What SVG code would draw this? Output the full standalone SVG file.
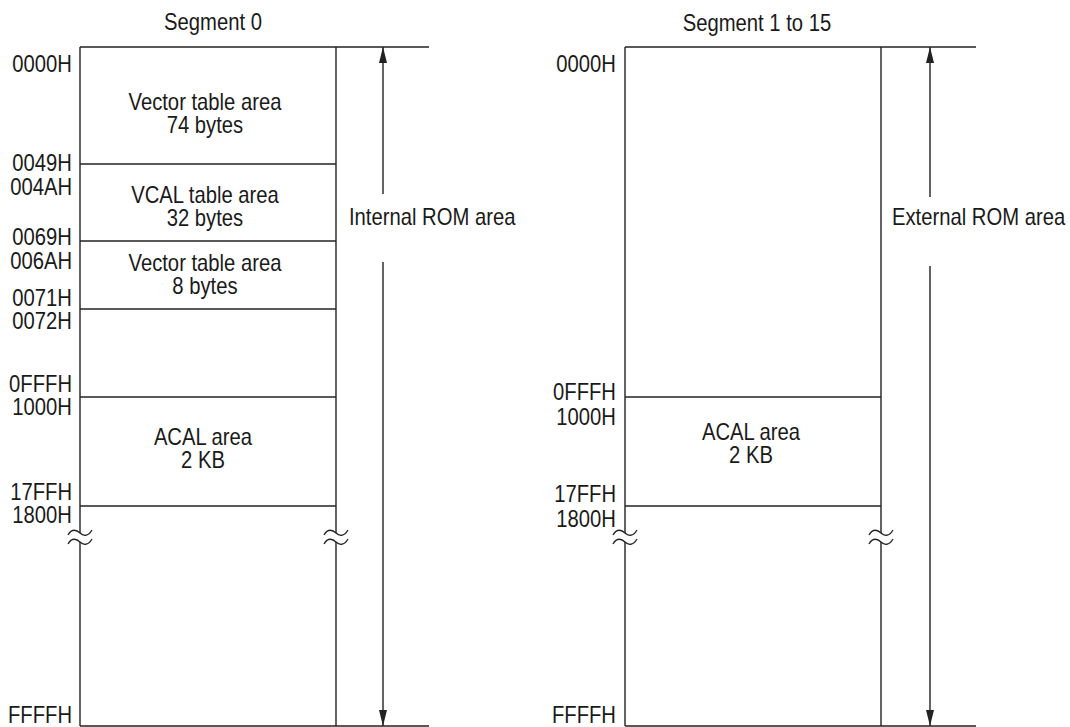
<svg xmlns="http://www.w3.org/2000/svg" width="1070" height="727" viewBox="0 0 1070 727">
<style>
  text { font-family: "Liberation Sans", Arial, sans-serif; font-size: 23px; fill: #1a1a1a; }
  .r { text-anchor: end; }
  .m { text-anchor: middle; }
  .ln { stroke: #222; stroke-width: 1.4; fill: none; }
  .brk { stroke: #222; stroke-width: 1.3; fill: none; }
</style>
<defs>
  <path id="tilde" d="M-12,2 C-8,-5 -3,-3 0,0 S8,4 12,-3"/>
  <marker id="ah" viewBox="0 0 16 8" refX="16" refY="4" markerWidth="16" markerHeight="8" markerUnits="userSpaceOnUse" orient="auto">
    <path d="M0,0 L16,4 L0,8 Z" fill="#222"/>
  </marker>
</defs>
<rect width="1070" height="727" fill="#fff"/>

<g id="segment0">
  <line class="ln" x1="80" y1="47" x2="429" y2="47"/>
  <line class="ln" x1="80" y1="726" x2="429" y2="726"/>
  <line class="ln" x1="80" y1="47" x2="80" y2="533"/>
  <line class="ln" x1="80" y1="542" x2="80" y2="726"/>
  <line class="ln" x1="336" y1="47" x2="336" y2="533"/>
  <line class="ln" x1="336" y1="542" x2="336" y2="726"/>
  <use href="#tilde" class="brk" x="80" y="533"/>
  <use href="#tilde" class="brk" x="80" y="542"/>
  <use href="#tilde" class="brk" x="336" y="533"/>
  <use href="#tilde" class="brk" x="336" y="542"/>
  <line class="ln" x1="80" y1="164" x2="336" y2="164"/>
  <line class="ln" x1="80" y1="241" x2="336" y2="241"/>
  <line class="ln" x1="80" y1="309" x2="336" y2="309"/>
  <line class="ln" x1="80" y1="397" x2="336" y2="397"/>
  <line class="ln" x1="80" y1="506" x2="336" y2="506"/>
  <g transform="scale(0.88 1)">
    <text class="m" x="242.05" y="30">Segment 0</text>
  </g>
</g>

<g id="s0-vector1" transform="scale(0.88 1)">
  <text class="m" x="232.95" y="110">Vector table area</text>
  <text class="m" x="232.95" y="133">74 bytes</text>
</g>
<g id="s0-vcal" transform="scale(0.88 1)">
  <text class="m" x="232.95" y="203">VCAL table area</text>
  <text class="m" x="232.95" y="226">32 bytes</text>
</g>
<g id="s0-vector2" transform="scale(0.88 1)">
  <text class="m" x="232.95" y="271">Vector table area</text>
  <text class="m" x="232.95" y="294">8 bytes</text>
</g>
<g id="s0-acal" transform="scale(0.88 1)">
  <text class="m" x="230.68" y="445">ACAL area</text>
  <text class="m" x="230.68" y="468">2 KB</text>
</g>

<g id="s0-addresses" transform="scale(0.88 1)">
  <text class="r" x="81.82" y="72">0000H</text>
  <text class="r" x="81.82" y="171">0049H</text>
  <text class="r" x="81.82" y="195">004AH</text>
  <text class="r" x="81.82" y="245">0069H</text>
  <text class="r" x="81.82" y="269">006AH</text>
  <text class="r" x="81.82" y="306">0071H</text>
  <text class="r" x="81.82" y="329">0072H</text>
  <text class="r" x="81.82" y="392">0FFFH</text>
  <text class="r" x="81.82" y="415">1000H</text>
  <text class="r" x="81.82" y="500">17FFH</text>
  <text class="r" x="81.82" y="523">1800H</text>
  <text class="r" x="81.82" y="723">FFFFH</text>
</g>

<g id="segment1to15">
  <line class="ln" x1="625" y1="47" x2="976" y2="47"/>
  <line class="ln" x1="625" y1="726" x2="976" y2="726"/>
  <line class="ln" x1="625" y1="47" x2="625" y2="533"/>
  <line class="ln" x1="625" y1="542" x2="625" y2="726"/>
  <line class="ln" x1="881" y1="47" x2="881" y2="533"/>
  <line class="ln" x1="881" y1="542" x2="881" y2="726"/>
  <use href="#tilde" class="brk" x="625" y="533"/>
  <use href="#tilde" class="brk" x="625" y="542"/>
  <use href="#tilde" class="brk" x="881" y="533"/>
  <use href="#tilde" class="brk" x="881" y="542"/>
  <line class="ln" x1="625" y1="397" x2="881" y2="397"/>
  <line class="ln" x1="625" y1="506" x2="881" y2="506"/>
  <g transform="scale(0.88 1)">
    <text class="m" x="860.23" y="31">Segment 1 to 15</text>
  </g>
</g>

<g id="s1-acal" transform="scale(0.88 1)">
  <text class="m" x="853.41" y="440">ACAL area</text>
  <text class="m" x="853.41" y="463">2 KB</text>
</g>

<g id="s1-addresses" transform="scale(0.88 1)">
  <text class="r" x="700" y="72">0000H</text>
  <text class="r" x="700" y="400">0FFFH</text>
  <text class="r" x="700" y="425">1000H</text>
  <text class="r" x="700" y="502">17FFH</text>
  <text class="r" x="700" y="527">1800H</text>
  <text class="r" x="700" y="723">FFFFH</text>
</g>

<g id="internal-rom" transform="scale(0.88 1)">
  <text x="396.59" y="225">Internal ROM area</text>
</g>
<g id="external-rom" transform="scale(0.88 1)">
  <text x="1013.64" y="225">External ROM area</text>
</g>

<g id="connectors">
  <line class="ln" x1="383" y1="194" x2="383" y2="47" marker-end="url(#ah)"/>
  <line class="ln" x1="383" y1="262" x2="383" y2="726" marker-end="url(#ah)"/>
  <line class="ln" x1="930" y1="197" x2="930" y2="47" marker-end="url(#ah)"/>
  <line class="ln" x1="930" y1="266" x2="930" y2="726" marker-end="url(#ah)"/>
</g>
</svg>
